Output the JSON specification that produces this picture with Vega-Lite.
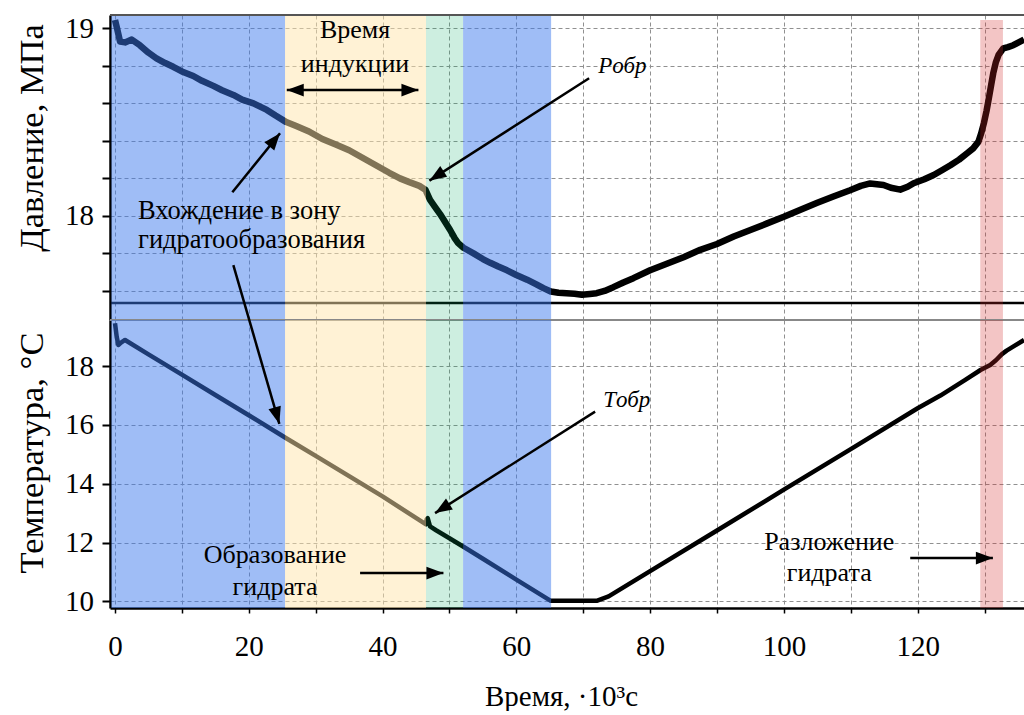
{
  "$schema": "https://vega.github.io/schema/vega-lite/v6.json",
  "background": "white",
  "padding": {"left": 13, "top": 14, "right": 0, "bottom": 0},
  "spacing": 0,
  "bounds": "flush",
  "config": {
    "font": "Liberation Serif, DejaVu Serif, serif",
    "view": {"stroke": null},
    "text": {"font": "Liberation Serif, DejaVu Serif, serif"},
    "axis": {
      "labelFont": "Liberation Serif, DejaVu Serif, serif",
      "titleFont": "Liberation Serif, DejaVu Serif, serif",
      "labelColor": "black",
      "titleColor": "black",
      "titleFontWeight": "normal",
      "gridColor": "#909090",
      "gridDash": [4, 3],
      "gridWidth": 1,
      "domainColor": "black",
      "tickColor": "black"
    }
  },
  "datasets": {
    "pressure": [
      {"t": 0, "p": 19.044}, {"t": 0.3, "p": 19.0}, {"t": 0.75, "p": 18.93}, {"t": 1.5, "p": 18.925},
      {"t": 2.5, "p": 18.94}, {"t": 3.7, "p": 18.91}, {"t": 5, "p": 18.87}, {"t": 6.2, "p": 18.84},
      {"t": 7.5, "p": 18.815}, {"t": 8.7, "p": 18.795}, {"t": 10, "p": 18.77}, {"t": 11.7, "p": 18.746},
      {"t": 13, "p": 18.72}, {"t": 14.7, "p": 18.693}, {"t": 16, "p": 18.67}, {"t": 17.7, "p": 18.645},
      {"t": 19, "p": 18.62}, {"t": 20.7, "p": 18.6}, {"t": 22.7, "p": 18.565}, {"t": 24, "p": 18.535},
      {"t": 25.6, "p": 18.5}, {"t": 27, "p": 18.48}, {"t": 29, "p": 18.45}, {"t": 31, "p": 18.41},
      {"t": 33, "p": 18.38}, {"t": 35, "p": 18.35}, {"t": 37, "p": 18.31}, {"t": 39, "p": 18.27},
      {"t": 41, "p": 18.23}, {"t": 42.6, "p": 18.2}, {"t": 44, "p": 18.18}, {"t": 45.5, "p": 18.16},
      {"t": 46.4, "p": 18.14}, {"t": 47.1, "p": 18.085}, {"t": 47.8, "p": 18.05}, {"t": 48.6, "p": 18.01},
      {"t": 49.4, "p": 17.965}, {"t": 50.1, "p": 17.925}, {"t": 50.8, "p": 17.88}, {"t": 51.3, "p": 17.855},
      {"t": 52.1, "p": 17.83}, {"t": 53.6, "p": 17.8}, {"t": 55, "p": 17.77}, {"t": 56.1, "p": 17.75},
      {"t": 57.3, "p": 17.73}, {"t": 58.6, "p": 17.71}, {"t": 60, "p": 17.685}, {"t": 61.6, "p": 17.66},
      {"t": 63, "p": 17.635}, {"t": 64.05, "p": 17.615}, {"t": 65.15, "p": 17.597}, {"t": 66.3, "p": 17.59},
      {"t": 67.5, "p": 17.588}, {"t": 68.7, "p": 17.585}, {"t": 69.8, "p": 17.58}, {"t": 71, "p": 17.584},
      {"t": 72, "p": 17.588}, {"t": 73.2, "p": 17.6}, {"t": 74.5, "p": 17.62}, {"t": 76, "p": 17.645},
      {"t": 77.5, "p": 17.668}, {"t": 80, "p": 17.71}, {"t": 82.5, "p": 17.745}, {"t": 85, "p": 17.78},
      {"t": 87.5, "p": 17.819}, {"t": 90, "p": 17.85}, {"t": 92.5, "p": 17.89}, {"t": 95, "p": 17.925},
      {"t": 97.5, "p": 17.96}, {"t": 100, "p": 17.995}, {"t": 102.4, "p": 18.032}, {"t": 105, "p": 18.07},
      {"t": 107.5, "p": 18.105}, {"t": 109.9, "p": 18.137}, {"t": 111.5, "p": 18.16}, {"t": 112.9, "p": 18.173},
      {"t": 114.9, "p": 18.165}, {"t": 116, "p": 18.15}, {"t": 117.4, "p": 18.14}, {"t": 118.5, "p": 18.155},
      {"t": 119.4, "p": 18.174}, {"t": 121, "p": 18.195}, {"t": 122.4, "p": 18.218}, {"t": 123.7, "p": 18.245},
      {"t": 124.9, "p": 18.27}, {"t": 126.2, "p": 18.3}, {"t": 127.4, "p": 18.334}, {"t": 128.3, "p": 18.36},
      {"t": 129.1, "p": 18.396}, {"t": 129.5, "p": 18.44}, {"t": 129.9, "p": 18.494}, {"t": 130.3, "p": 18.56},
      {"t": 130.6, "p": 18.618}, {"t": 131, "p": 18.7}, {"t": 131.3, "p": 18.76}, {"t": 131.7, "p": 18.82},
      {"t": 132.1, "p": 18.858}, {"t": 132.8, "p": 18.893}, {"t": 133.5, "p": 18.9}, {"t": 134.3, "p": 18.91},
      {"t": 135.1, "p": 18.925}, {"t": 135.9, "p": 18.94}
    ],
    "temperature": [
      {"t": 0, "temp": 19.46}, {"t": 0.25, "temp": 19.0}, {"t": 0.5, "temp": 18.72}, {"t": 0.9, "temp": 18.8},
      {"t": 1.5, "temp": 18.89}, {"t": 5, "temp": 18.4}, {"t": 10, "temp": 17.71}, {"t": 15, "temp": 17.02},
      {"t": 20, "temp": 16.33}, {"t": 25.6, "temp": 15.55}, {"t": 30, "temp": 14.95}, {"t": 35, "temp": 14.26},
      {"t": 40, "temp": 13.57}, {"t": 46.5, "temp": 12.62}, {"t": 46.6, "temp": 12.8}, {"t": 46.75, "temp": 12.83},
      {"t": 47.1, "temp": 12.55}, {"t": 48, "temp": 12.42}, {"t": 50, "temp": 12.15}, {"t": 52.1, "temp": 11.86},
      {"t": 55, "temp": 11.45}, {"t": 60, "temp": 10.74}, {"t": 65.15, "temp": 10.02}, {"t": 68, "temp": 10.02},
      {"t": 72, "temp": 10.02}, {"t": 73.8, "temp": 10.17}, {"t": 80, "temp": 11.03}, {"t": 90, "temp": 12.41},
      {"t": 100, "temp": 13.8}, {"t": 110, "temp": 15.18}, {"t": 120, "temp": 16.57}, {"t": 123.4, "temp": 17.0},
      {"t": 127, "temp": 17.52}, {"t": 129.4, "temp": 17.87}, {"t": 130.85, "temp": 18.04}, {"t": 131.7, "temp": 18.2},
      {"t": 132.6, "temp": 18.41}, {"t": 133.3, "temp": 18.53}, {"t": 135.9, "temp": 18.89}
    ],
    "phases": [
      {"phase": "cooling", "start": -0.55, "end": 25.42},
      {"phase": "induction", "start": 25.42, "end": 46.5},
      {"phase": "formation", "start": 46.5, "end": 52.04},
      {"phase": "cooling", "start": 52.04, "end": 65.2},
      {"phase": "decomposition", "start": 129.36, "end": 132.75}
    ],
    "arrows_top": [
      {"id": "induction", "t0": 25.68, "v0": 18.671, "t1": 45.36, "v1": 18.671},
      {"id": "p_form", "t0": 70.88, "v0": 18.734, "t1": 47.0, "v1": 18.188},
      {"id": "zone_p", "t0": 17.54, "v0": 18.126, "t1": 24.67, "v1": 18.441}
    ],
    "arrows_bottom": [
      {"id": "zone_t", "t0": 17.69, "v0": 21.437, "t1": 24.57, "v1": 16.036},
      {"id": "t_form", "t0": 71.78, "v0": 16.454, "t1": 47.85, "v1": 13.003},
      {"id": "formation", "t0": 36.64, "v0": 10.965, "t1": 49.1, "v1": 10.965},
      {"id": "decomposition", "t0": 118.89, "v0": 11.474, "t1": 131.25, "v1": 11.474}
    ],
    "notes_top_center": [
      {"text": "Время", "t": 35.89, "p": 18.947},
      {"text": "индукции", "t": 35.89, "p": 18.769}
    ],
    "notes_top_left": [
      {"text": "Вхождение в зону", "t": 3.44, "p": 17.982},
      {"text": "гидратообразования", "t": 3.44, "p": 17.828}
    ],
    "symbol_top": [{"text": "Pобр", "t": 72.23, "p": 18.76}],
    "notes_bottom": [
      {"text": "Образование", "t": 23.93, "temp": 11.304},
      {"text": "гидрата", "t": 23.93, "temp": 10.228},
      {"text": "Разложение", "t": 106.78, "temp": 11.756},
      {"text": "гидрата", "t": 106.78, "temp": 10.703}
    ],
    "symbol_bottom": [{"text": "Tобр", "t": 72.98, "temp": 16.624}],
    "frame": [{}]
  },
  "vconcat": [
    {
      "width": 914,
      "height": 305,
      "layer": [
        {
          "data": {"name": "pressure"},
          "mark": {"type": "line", "color": "black", "strokeWidth": 6.5, "strokeJoin": "round"},
          "encoding": {
            "x": {
              "field": "t", "type": "quantitative",
              "scale": {"domain": [-0.75, 135.9], "nice": false, "zero": false},
              "axis": {
                "title": null, "labels": false, "ticks": false, "domain": false, "grid": true,
                "values": [0, 10, 20, 30, 40, 50, 60, 70, 80, 90, 100, 110, 120, 130]
              }
            },
            "y": {
              "field": "p", "type": "quantitative",
              "scale": {"domain": [17.445, 19.071], "nice": false, "zero": false},
              "axis": {
                "title": "Давление, МПа",
                "titleFontSize": 34.5,
                "titleBaseline": "alphabetic",
                "titleX": -68,
                "titleY": 122.5,
                "values": [17.6, 17.7, 17.8, 17.9, 18, 18.1, 18.2, 18.3, 18.4, 18.5, 18.6, 18.7, 18.8, 18.9, 19],
                "grid": true,
                "tickSize": 8,
                "tickWidth": 2,
                "tickOpacity": {"condition": {"test": "abs(datum.value * 5 - round(datum.value * 5)) < 0.01", "value": 1}, "value": 0},
                "domainWidth": 2.5,
                "labelFontSize": 29,
                "labelPadding": 8.5,
                "labelOverlap": false,
                "labelExpr": "abs(datum.value - round(datum.value)) < 0.01 ? '' + round(datum.value) : ''"
              }
            }
          }
        },
        {
          "data": {"name": "frame"},
          "mark": {"type": "rule", "color": "black", "strokeWidth": 2.5},
          "encoding": {"y": {"datum": 17.535, "type": "quantitative", "scale": {"domain": [17.445, 19.071], "nice": false, "zero": false}}}
        },
        {
          "data": {"name": "phases"},
          "transform": [{"filter": "datum.phase !== 'decomposition'"}],
          "mark": {"type": "rect"},
          "encoding": {
            "x": {"field": "start", "type": "quantitative", "scale": {"domain": [-0.75, 135.9], "nice": false, "zero": false}},
            "x2": {"field": "end"},
            "color": {
              "field": "phase", "type": "nominal", "legend": null,
              "scale": {
                "domain": ["cooling", "induction", "formation", "decomposition"],
                "range": ["rgba(60,120,237,0.49)", "rgba(255,229,171,0.5)", "rgba(5,170,100,0.2)", "rgba(210,40,40,0.27)"]
              }
            }
          }
        },
        {
          "data": {"name": "phases"},
          "transform": [{"filter": "datum.phase === 'decomposition'"}],
          "mark": {"type": "rect"},
          "encoding": {
            "x": {"field": "start", "type": "quantitative", "scale": {"domain": [-0.75, 135.9], "nice": false, "zero": false}},
            "x2": {"field": "end"},
            "y": {"datum": 19.044, "type": "quantitative", "scale": {"domain": [17.445, 19.071], "nice": false, "zero": false}},
            "y2": {"datum": 17.445},
            "color": {
              "field": "phase", "type": "nominal", "legend": null,
              "scale": {
                "domain": ["cooling", "induction", "formation", "decomposition"],
                "range": ["rgba(60,120,237,0.49)", "rgba(255,229,171,0.5)", "rgba(5,170,100,0.2)", "rgba(210,40,40,0.27)"]
              }
            }
          }
        },
        {
          "data": {"name": "frame"},
          "mark": {"type": "rule", "color": "#555555", "strokeWidth": 2},
          "encoding": {"y": {"datum": 19.071, "type": "quantitative", "scale": {"domain": [17.445, 19.071], "nice": false, "zero": false}}}
        },
        {
          "data": {"name": "arrows_top"},
          "mark": {"type": "rule", "color": "black", "strokeWidth": 2.5},
          "encoding": {
            "x": {"field": "t0", "type": "quantitative", "scale": {"domain": [-0.75, 135.9], "nice": false, "zero": false}},
            "y": {"field": "v0", "type": "quantitative", "scale": {"domain": [17.445, 19.071], "nice": false, "zero": false}},
            "x2": {"field": "t1"},
            "y2": {"field": "v1"}
          }
        },
        {
          "data": {"name": "arrows_top"},
          "transform": [{"filter": "datum.id === 'induction'"}],
          "mark": {"type": "point", "shape": "M0,0L0.75,2L-0.75,2Z", "filled": true, "size": 289, "angle": 90, "color": "black", "opacity": 1, "strokeWidth": 0},
          "encoding": {
            "x": {"field": "t1", "type": "quantitative", "scale": {"domain": [-0.75, 135.9], "nice": false, "zero": false}},
            "y": {"field": "v1", "type": "quantitative", "scale": {"domain": [17.445, 19.071], "nice": false, "zero": false}}
          }
        },
        {
          "data": {"name": "arrows_top"},
          "transform": [{"filter": "datum.id === 'induction'"}],
          "mark": {"type": "point", "shape": "M0,0L0.75,2L-0.75,2Z", "filled": true, "size": 289, "angle": 270, "color": "black", "opacity": 1, "strokeWidth": 0},
          "encoding": {
            "x": {"field": "t0", "type": "quantitative", "scale": {"domain": [-0.75, 135.9], "nice": false, "zero": false}},
            "y": {"field": "v0", "type": "quantitative", "scale": {"domain": [17.445, 19.071], "nice": false, "zero": false}}
          }
        },
        {
          "data": {"name": "arrows_top"},
          "transform": [{"filter": "datum.id === 'p_form'"}],
          "mark": {"type": "point", "shape": "M0,0L0.75,2L-0.75,2Z", "filled": true, "size": 289, "angle": 237.3, "color": "black", "opacity": 1, "strokeWidth": 0},
          "encoding": {
            "x": {"field": "t1", "type": "quantitative", "scale": {"domain": [-0.75, 135.9], "nice": false, "zero": false}},
            "y": {"field": "v1", "type": "quantitative", "scale": {"domain": [17.445, 19.071], "nice": false, "zero": false}}
          }
        },
        {
          "data": {"name": "arrows_top"},
          "transform": [{"filter": "datum.id === 'zone_p'"}],
          "mark": {"type": "point", "shape": "M0,0L0.75,2L-0.75,2Z", "filled": true, "size": 289, "angle": 39, "color": "black", "opacity": 1, "strokeWidth": 0},
          "encoding": {
            "x": {"field": "t1", "type": "quantitative", "scale": {"domain": [-0.75, 135.9], "nice": false, "zero": false}},
            "y": {"field": "v1", "type": "quantitative", "scale": {"domain": [17.445, 19.071], "nice": false, "zero": false}}
          }
        },
        {
          "data": {"name": "notes_top_center"},
          "mark": {"type": "text", "font": "Liberation Serif, DejaVu Serif, serif", "fontSize": 26, "color": "black", "align": "center", "baseline": "alphabetic"},
          "encoding": {
            "x": {"field": "t", "type": "quantitative", "scale": {"domain": [-0.75, 135.9], "nice": false, "zero": false}},
            "y": {"field": "p", "type": "quantitative", "scale": {"domain": [17.445, 19.071], "nice": false, "zero": false}},
            "text": {"field": "text"}
          }
        },
        {
          "data": {"name": "notes_top_left"},
          "mark": {"type": "text", "font": "Liberation Serif, DejaVu Serif, serif", "fontSize": 26.5, "color": "black", "align": "left", "baseline": "alphabetic"},
          "encoding": {
            "x": {"field": "t", "type": "quantitative", "scale": {"domain": [-0.75, 135.9], "nice": false, "zero": false}},
            "y": {"field": "p", "type": "quantitative", "scale": {"domain": [17.445, 19.071], "nice": false, "zero": false}},
            "text": {"field": "text"}
          }
        },
        {
          "data": {"name": "symbol_top"},
          "mark": {"type": "text", "font": "Liberation Serif, DejaVu Serif, serif", "fontSize": 23, "fontStyle": "italic", "color": "black", "align": "left", "baseline": "alphabetic"},
          "encoding": {
            "x": {"field": "t", "type": "quantitative", "scale": {"domain": [-0.75, 135.9], "nice": false, "zero": false}},
            "y": {"field": "p", "type": "quantitative", "scale": {"domain": [17.445, 19.071], "nice": false, "zero": false}},
            "text": {"field": "text"}
          }
        }
      ]
    },
    {
      "width": 914,
      "height": 288,
      "layer": [
        {
          "data": {"name": "temperature"},
          "mark": {"type": "line", "color": "black", "strokeWidth": 4.5, "strokeJoin": "round"},
          "encoding": {
            "x": {
              "field": "t", "type": "quantitative",
              "scale": {"domain": [-0.75, 135.9], "nice": false, "zero": false},
              "axis": {
                "title": "Время, ·10³с",
                "titleFontSize": 29,
                "titleBaseline": "alphabetic",
                "titleX": 451,
                "titleY": 97,
                "values": [0, 2.5, 5, 7.5, 10, 12.5, 15, 17.5, 20, 22.5, 25, 27.5, 30, 32.5, 35, 37.5, 40, 42.5, 45, 47.5, 50, 52.5, 55, 57.5, 60, 62.5, 65, 67.5, 70, 72.5, 75, 77.5, 80, 82.5, 85, 87.5, 90, 92.5, 95, 97.5, 100, 102.5, 105, 107.5, 110, 112.5, 115, 117.5, 120, 122.5, 125, 127.5, 130, 132.5, 135],
                "grid": true,
                "gridOpacity": {"condition": {"test": "datum.value % 10 === 0", "value": 1}, "value": 0},
                "tickSize": 5,
                "tickWidth": 1.5,
                "domainWidth": 2.5,
                "labelFontSize": 29,
                "labelBaseline": "alphabetic",
                "labelPadding": 42,
                "labelOverlap": false,
                "labelFlush": false,
                "labelExpr": "datum.value % 20 === 0 ? '' + datum.value : ''"
              }
            },
            "y": {
              "field": "temp", "type": "quantitative",
              "scale": {"domain": [9.776, 19.57], "nice": false, "zero": false},
              "axis": {
                "title": "Температура, °C",
                "titleFontSize": 34.5,
                "titleBaseline": "alphabetic",
                "titleX": -68,
                "titleY": 132.5,
                "values": [10, 11, 12, 13, 14, 15, 16, 17, 18, 19],
                "grid": true,
                "tickSize": 8,
                "tickWidth": 2,
                "domainWidth": 2.5,
                "labelFontSize": 29,
                "labelPadding": 8.5,
                "labelOverlap": false,
                "labelExpr": "datum.value % 2 === 0 ? '' + datum.value : ''"
              }
            }
          }
        },
        {
          "data": {"name": "frame"},
          "mark": {"type": "rule", "color": "#888888", "strokeWidth": 2},
          "encoding": {"y": {"datum": 19.57, "type": "quantitative", "scale": {"domain": [9.776, 19.57], "nice": false, "zero": false}}}
        },
        {
          "data": {"name": "phases"},
          "mark": {"type": "rect"},
          "encoding": {
            "x": {"field": "start", "type": "quantitative", "scale": {"domain": [-0.75, 135.9], "nice": false, "zero": false}},
            "x2": {"field": "end"},
            "color": {
              "field": "phase", "type": "nominal", "legend": null,
              "scale": {
                "domain": ["cooling", "induction", "formation", "decomposition"],
                "range": ["rgba(60,120,237,0.49)", "rgba(255,229,171,0.5)", "rgba(5,170,100,0.2)", "rgba(210,40,40,0.27)"]
              }
            }
          }
        },
        {
          "data": {"name": "arrows_bottom"},
          "mark": {"type": "rule", "color": "black", "strokeWidth": 2.5},
          "encoding": {
            "x": {"field": "t0", "type": "quantitative", "scale": {"domain": [-0.75, 135.9], "nice": false, "zero": false}},
            "y": {"field": "v0", "type": "quantitative", "scale": {"domain": [9.776, 19.57], "nice": false, "zero": false}},
            "x2": {"field": "t1"},
            "y2": {"field": "v1"}
          }
        },
        {
          "data": {"name": "arrows_bottom"},
          "transform": [{"filter": "datum.id === 'zone_t'"}],
          "mark": {"type": "point", "shape": "M0,0L0.75,2L-0.75,2Z", "filled": true, "size": 289, "angle": 163.9, "color": "black", "opacity": 1, "strokeWidth": 0},
          "encoding": {
            "x": {"field": "t1", "type": "quantitative", "scale": {"domain": [-0.75, 135.9], "nice": false, "zero": false}},
            "y": {"field": "v1", "type": "quantitative", "scale": {"domain": [9.776, 19.57], "nice": false, "zero": false}}
          }
        },
        {
          "data": {"name": "arrows_bottom"},
          "transform": [{"filter": "datum.id === 't_form'"}],
          "mark": {"type": "point", "shape": "M0,0L0.75,2L-0.75,2Z", "filled": true, "size": 289, "angle": 237.6, "color": "black", "opacity": 1, "strokeWidth": 0},
          "encoding": {
            "x": {"field": "t1", "type": "quantitative", "scale": {"domain": [-0.75, 135.9], "nice": false, "zero": false}},
            "y": {"field": "v1", "type": "quantitative", "scale": {"domain": [9.776, 19.57], "nice": false, "zero": false}}
          }
        },
        {
          "data": {"name": "arrows_bottom"},
          "transform": [{"filter": "datum.id === 'formation' || datum.id === 'decomposition'"}],
          "mark": {"type": "point", "shape": "M0,0L0.75,2L-0.75,2Z", "filled": true, "size": 289, "angle": 90, "color": "black", "opacity": 1, "strokeWidth": 0},
          "encoding": {
            "x": {"field": "t1", "type": "quantitative", "scale": {"domain": [-0.75, 135.9], "nice": false, "zero": false}},
            "y": {"field": "v1", "type": "quantitative", "scale": {"domain": [9.776, 19.57], "nice": false, "zero": false}}
          }
        },
        {
          "data": {"name": "notes_bottom"},
          "mark": {"type": "text", "font": "Liberation Serif, DejaVu Serif, serif", "fontSize": 26, "color": "black", "align": "center", "baseline": "alphabetic"},
          "encoding": {
            "x": {"field": "t", "type": "quantitative", "scale": {"domain": [-0.75, 135.9], "nice": false, "zero": false}},
            "y": {"field": "temp", "type": "quantitative", "scale": {"domain": [9.776, 19.57], "nice": false, "zero": false}},
            "text": {"field": "text"}
          }
        },
        {
          "data": {"name": "symbol_bottom"},
          "mark": {"type": "text", "font": "Liberation Serif, DejaVu Serif, serif", "fontSize": 23, "fontStyle": "italic", "color": "black", "align": "left", "baseline": "alphabetic"},
          "encoding": {
            "x": {"field": "t", "type": "quantitative", "scale": {"domain": [-0.75, 135.9], "nice": false, "zero": false}},
            "y": {"field": "temp", "type": "quantitative", "scale": {"domain": [9.776, 19.57], "nice": false, "zero": false}},
            "text": {"field": "text"}
          }
        }
      ]
    }
  ]
}
